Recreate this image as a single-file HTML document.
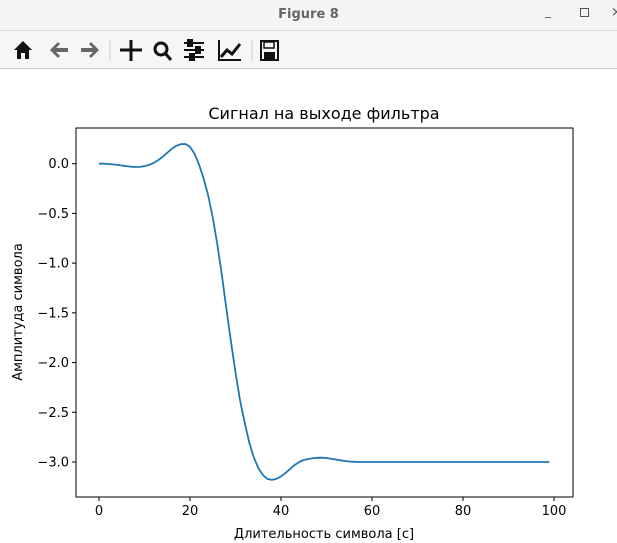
<!DOCTYPE html>
<html><head><meta charset="utf-8"><style>
body{margin:0;width:617px;height:543px;overflow:hidden;background:#fff;font-family:"DejaVu Sans","Liberation Sans",sans-serif;}
#titlebar{position:absolute;left:0;top:0;width:617px;height:30px;background:#f4f4f4;border-bottom:1px solid #d8d8d8;}
#titlebar .t{position:absolute;left:0;width:617px;top:7px;text-align:center;font-weight:bold;font-size:13px;color:#666;}
#toolbar{position:absolute;left:0;top:31px;width:617px;height:37px;background:#f6f6f6;border-bottom:1px solid #cfcfcf;}
</style></head><body>
<div id="titlebar"><div class="t">Figure 8</div>
<span style="position:absolute;left:545px;top:4px;color:#555;font-size:12px">_</span>
<span style="position:absolute;left:580px;top:8px;width:7px;height:7px;border:1px solid #555"></span>
<span style="position:absolute;left:611px;top:5px;color:#555;font-size:13px">×</span>
</div>
<div id="toolbar">
<svg width="617" height="37">
<g><path d="M14 19 L23 10 L32 19 L29 19 L29 28 L25 28 L25 22 L21 22 L21 28 L17 28 L17 19 Z" fill="#111"/></g>
<g><path d="M50 19 L58 11 L60 13 L56 17 L68 17 L68 21 L56 21 L60 25 L58 27 Z" fill="#666"/></g>
<g><path d="M99 19 L91 11 L89 13 L93 17 L81 17 L81 21 L93 21 L89 25 L91 27 Z" fill="#666"/></g>
<line x1="110" y1="9" x2="110" y2="30" stroke="#ccc"/>
<g stroke="#111" stroke-width="3" fill="#111"><line x1="131" y1="9" x2="131" y2="30"/><line x1="120" y1="19" x2="142" y2="19"/></g>
<g><circle cx="161" cy="18" r="6" fill="none" stroke="#111" stroke-width="3"/><line x1="165" y1="22" x2="171" y2="29" stroke="#111" stroke-width="3"/></g>
<g stroke="#111" stroke-width="2"><line x1="184" y1="12" x2="204" y2="12"/><line x1="184" y1="19" x2="204" y2="19"/><line x1="184" y1="26" x2="204" y2="26"/><rect x="188" y="9" width="4" height="6" fill="#111"/><rect x="196" y="16" width="4" height="6" fill="#111"/><rect x="190" y="23" width="4" height="6" fill="#111"/></g>
<g stroke="#111" stroke-width="2" fill="none"><polyline points="219,9 219,29 241,29"/><polyline points="221,26 227,19 232,23 240,13" stroke-width="3"/></g>
<line x1="252" y1="9" x2="252" y2="30" stroke="#ccc"/>
<g><rect x="261" y="10" width="17" height="19" fill="none" stroke="#111" stroke-width="2"/><rect x="264" y="11" width="10" height="6" fill="none" stroke="#111" stroke-width="1.5"/><rect x="264" y="21" width="11" height="7" fill="#111"/></g>
</svg></div>
<svg id="chart" width="617" height="543" style="position:absolute;left:0;top:0;pointer-events:none"></svg>
<script>
const xValues=[];for(let i=0;i<100;i++)xValues.push(i);
const yValues=[0,0,-0.003,-0.007,-0.012,-0.018,-0.025,-0.03,-0.033,-0.032,-0.025,
-0.012,0.008,0.035,0.07,0.11,0.15,0.18,0.197,0.198,0.17,0.1,-0.01,-0.15,-0.32,-0.54,-0.81,-1.12,-1.46,-1.79,-2.1,
-2.38,-2.6,-2.8,-2.95,-3.06,-3.13,-3.17,-3.18,-3.17,-3.145,-3.11,-3.07,-3.03,-3.0,-2.98,-2.97,-2.962,-2.958,-2.957,-2.96,
-2.967,-2.975,-2.982,-2.99,-2.995,-2.998,-3.0,-3.0,-3.0,-3.0,-3.0,-3.0,-3.0,-3.0,-3.0,-3.0,-3.0,-3.0,-3.0,-3.0,
-3.0,-3.0,-3.0,-3.0,-3.0,-3.0,-3.0,-3.0,-3.0,-3.0,-3.0,-3.0,-3.0,-3.0,-3.0,-3.0,-3.0,-3.0,-3.0,-3.0,
-3.0,-3.0,-3.0,-3.0,-3.0,-3.0,-3.0,-3.0,-3.0,-3.0];
const xTicks=[0,20,40,60,80,100];
const yTicks=[0.0,-0.5,-1.0,-1.5,-2.0,-2.5,-3.0];
const NS="http://www.w3.org/2000/svg";
const svg=document.getElementById('chart');
const L=76,R=573,T=128,B=497;
const sx=v=>99+(v-0)*4.55;
const sy=v=>163.7-v*99.43;
function mk(tag,attrs,txt){const e=document.createElementNS(NS,tag);for(const k in attrs)e.setAttribute(k,attrs[k]);if(txt!==undefined)e.textContent=txt;svg.appendChild(e);return e;}
let e=mk('rect',{x:L,y:T,width:R-L,height:B-T,fill:'none',stroke:'#000','stroke-width':1});


xTicks.forEach(t=>{
 let l=mk('line',{x1:sx(t),x2:sx(t),y1:B,y2:B+4,stroke:'#000'});
 
 
 let s=mk('text',{x:sx(t),y:B+18,'text-anchor':'middle','font-size':13,fill:'#000'},String(t));
 
 
});
yTicks.forEach(t=>{
 let l=mk('line',{x1:L-4,x2:L,y1:sy(t),y2:sy(t),stroke:'#000'});
 
 
 let s=mk('text',{x:L-7,y:sy(t)+4.5,'text-anchor':'end','font-size':13,fill:'#000'},t.toFixed(1).replace('-','\u2212'));
 
 
});
let d=xValues.map((x,i)=>(i?'L':'M')+sx(x).toFixed(2)+' '+sy(yValues[i]).toFixed(2)).join(' ');
let p=mk('path',{d:d,fill:'none',stroke:'#1f77b4','stroke-width':1.8,'stroke-linejoin':'round'});


let t1=mk('text',{x:324,y:119,'text-anchor':'middle','font-size':16,fill:'#000'},'Сигнал на выходе фильтра');


let t2=mk('text',{x:324,y:538,'text-anchor':'middle','font-size':13,fill:'#000'},'Длительность символа [с]');


let t3=mk('text',{x:0,y:0,'text-anchor':'middle','font-size':13,fill:'#000',transform:'translate(22,312) rotate(-90)'},'Амплитуда символа');


</script>
</body></html>
